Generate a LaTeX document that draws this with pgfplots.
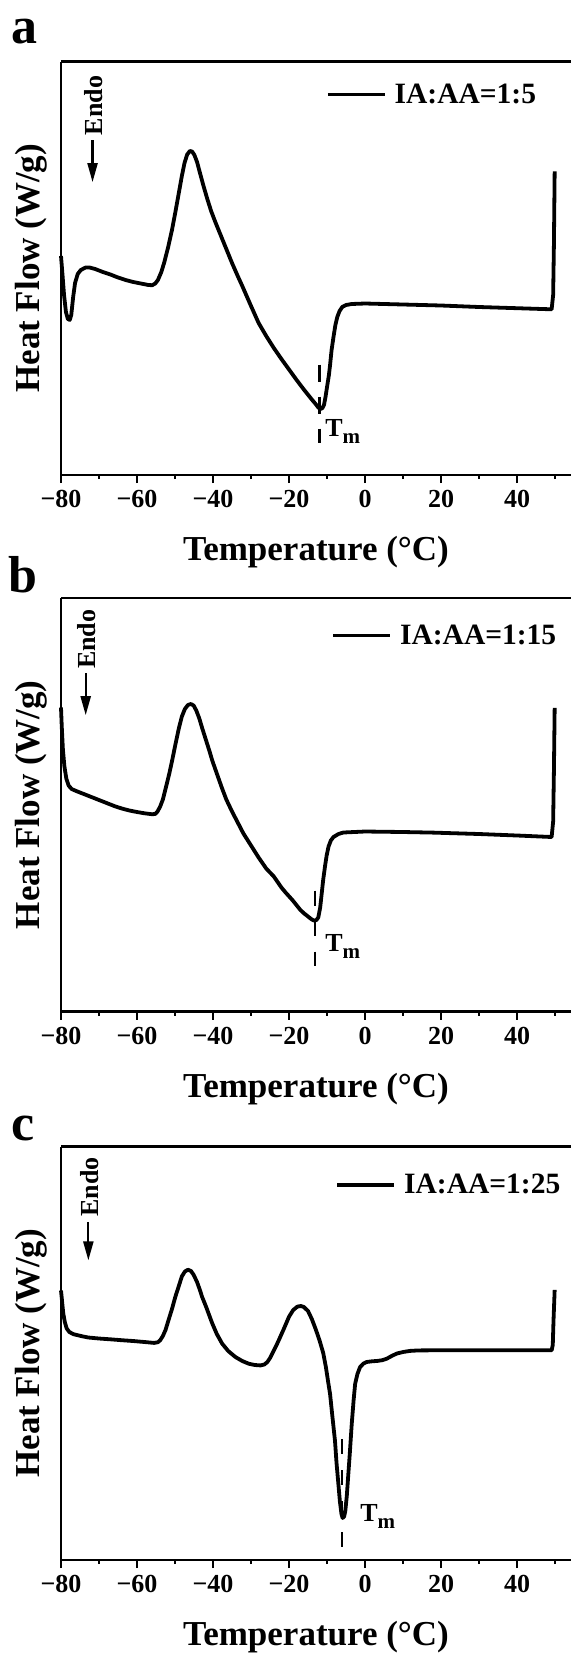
\documentclass[border=0pt]{standalone}
\usepackage{fontspec}
\setmainfont{Liberation Serif}
\usepackage{pgfplots}
\pgfplotsset{compat=1.18}
\usetikzlibrary{arrows.meta}

\pgfplotsset{
  dsc/.style={
    scale only axis, width=510pt, height=413.5pt,
    xmin=-80, xmax=54.2, ymin=0, ymax=413.5,
    axis x line*=box, axis y line*=left,
    axis line style={line width=2.8pt, black},
    xtick={-80,-60,-40,-20,0,20,40},
    xticklabels={−80,−60,−40,−20,0,20,40},
    minor xtick={-70,-50,-30,-10,10,30,50},
    ytick=\empty,
    xtick pos=left,
    tick align=outside,
    major tick length=8pt, minor tick length=4pt,
    every tick/.style={black, line width=2.2pt},
    xticklabel style={font=\bfseries\fontsize{26}{26}\selectfont, yshift=-4pt},
    xlabel={Temperature (°C)},
    ylabel={Heat Flow (W/g)},
    xlabel style={font=\bfseries\fontsize{35}{35}\selectfont, at={(axis description cs:0.5,-0.2073)}, anchor=base},
    ylabel style={font=\bfseries\fontsize{35}{35}\selectfont, at={(axis description cs:-0.0412,0.5)}, anchor=base},
    legend style={draw=none, fill=none, inner sep=0pt, outer sep=0pt,
      font=\bfseries\fontsize{29.5}{29.5}\selectfont, nodes={inner sep=0pt}},
    legend image code/.code={\draw[#1, line width=3.2pt] (0pt,0pt) -- (57pt,0pt); \path (65pt,0pt);},
    clip=false,
  },
  curve/.style={black, line width=3.8pt, line join=round},
  tmline/.style={black, line width=2.2pt, forget plot},
  endoarrow/.style={black, line width=2.2pt, forget plot, -{Triangle[length=19pt,width=10pt]}},
}

\begin{document}
\begin{tikzpicture}
\useasboundingbox (0,0) rectangle (571pt,-1657pt);

% panel labels
\node[anchor=base west, inner sep=0pt, font=\bfseries\fontsize{52}{52}\selectfont] at (11pt,-43pt) {a};
\node[anchor=base west, inner sep=0pt, font=\bfseries\fontsize{52}{52}\selectfont] at (8pt,-592.7pt) {b};
\node[anchor=base west, inner sep=0pt, font=\bfseries\fontsize{52}{52}\selectfont] at (11pt,-1140pt) {c};

% ---------------- panel a ----------------
\begin{axis}[dsc, at={(61pt,-475pt)}, anchor=south west,
  legend style={at={(axis description cs:0.9314,0.9207)}, anchor=east}]
\addplot[curve] table {
x y
-80.0 219
-79.6 200
-79.2 180
-78.7 163
-78.2 156
-77.7 155
-77.3 160
-76.8 178
-76.3 192
-75.6 201
-74.8 205
-73.5 207.5
-72.5 207.5
-71.0 206
-69.0 203
-67.0 200.5
-65.0 197.5
-63.0 195
-61.0 193
-59.0 191.5
-57.0 190
-56.0 189.8
-55.2 191.5
-54.5 195
-53.6 203
-52.8 213
-51.8 228
-50.8 245
-49.9 263
-49.0 282
-48.2 299
-47.5 312
-46.8 320.5
-46.1 324
-45.5 323.5
-44.9 320
-44.2 313
-43.5 303
-42.5 289
-41.5 276
-40.5 264
-39.4 253
-38.0 240
-36.5 226
-35.0 212
-33.5 199
-32.3 189
-30.0 169
-28.0 152
-26.0 139
-24.0 127
-22.0 116
-20.0 105.5
-18.0 95
-16.0 85
-14.0 75.5
-13.0 71
-12.3 67.5
-11.7 66
-11.2 67
-10.8 70
-10.4 78
-10.0 88
-9.5 100
-9.2 110
-8.8 125
-8.3 138
-7.8 150
-7.3 158
-6.7 164
-6.0 168
-5.0 170
-3.5 171
0.0 171.5
10.0 170.5
20.0 169.5
30.0 168
40.0 166.8
49.1 165.7
49.5 180
49.7 230
49.9 303.6
};
\addlegendentry{IA:AA=1:5}
\addplot[tmline, dash pattern=on 17pt off 15pt] coordinates {(-12,110.5) (-12,31.8)};
\addplot[endoarrow] coordinates {(-71.7,334.8) (-71.7,292.9)};
\node[rotate=90, anchor=west, inner sep=0pt, font=\bfseries\fontsize{26}{26}\selectfont] at (axis cs:-71.5,339.8) {Endo};
\node[anchor=base west, inner sep=0pt, font=\bfseries\fontsize{26}{26}\selectfont] at (axis cs:-10.5,38.5) {T\raisebox{-7pt}{\fontsize{21}{21}\selectfont m}};
\end{axis}

% ---------------- panel b ----------------
\begin{axis}[dsc, at={(61pt,-1011.5pt)}, anchor=south west,
  legend style={at={(axis description cs:0.971,0.9088)}, anchor=east}]
\addplot[curve] table {
x y
-80.0 304
-79.8 285
-79.5 262
-79.1 245
-78.6 233
-78.0 226
-77.2 222.5
-76.0 220.5
-74.0 217.5
-72.0 214.5
-70.0 211.5
-68.0 208.5
-66.0 205.5
-64.0 203
-62.0 201
-60.0 199.5
-58.0 198.2
-56.1 197.3
-55.2 197.5
-54.6 200
-53.9 205
-53.2 212
-52.4 224
-51.5 238
-50.7 252
-49.9 267
-49.0 283
-48.2 295
-47.4 302.5
-46.6 306.5
-45.8 307.5
-45.1 306
-44.4 301
-43.6 293
-42.9 284
-41.9 272
-40.9 260
-40.2 251
-39.0 238
-37.7 224
-36.5 212
-35.0 200
-33.5 189
-32.0 178
-30.0 166
-28.0 154
-26.0 143
-24.0 135
-22.0 124
-20.9 119
-19.0 111
-17.0 101.5
-16.0 98
-15.0 95
-14.0 92
-13.3 90.8
-12.8 91.5
-12.3 94
-11.8 104
-11.4 118
-11.0 132
-10.5 146
-10.1 156
-9.6 165
-9.0 171
-8.3 174.5
-7.0 177.5
-5.7 179
0.0 180
10.0 179.5
17.9 178.9
30.0 177.5
40.0 176
49.1 174.5
49.5 190
49.7 240
49.9 303.7
};
\addlegendentry{IA:AA=1:15}
\addplot[tmline, dash pattern=on 15pt off 15.5pt] coordinates {(-13.1,120.8) (-13.1,45.3)};
\addplot[endoarrow] coordinates {(-73.5,338.1) (-73.5,296.3)};
\node[rotate=90, anchor=west, inner sep=0pt, font=\bfseries\fontsize{26}{26}\selectfont] at (axis cs:-73.2,342.5) {Endo};
\node[anchor=base west, inner sep=0pt, font=\bfseries\fontsize{26}{26}\selectfont] at (axis cs:-10.5,60.4) {T\raisebox{-7pt}{\fontsize{21}{21}\selectfont m}};
\end{axis}

% ---------------- panel c ----------------
\begin{axis}[dsc, at={(61pt,-1560pt)}, anchor=south west,
  legend style={at={(axis description cs:0.979,0.907)}, anchor=east}]
\addplot[curve] table {
x y
-80.0 269.5
-79.7 258
-79.4 246.6
-79.0 238
-78.5 231.5
-77.8 228
-76.7 225.8
-74.5 223.8
-72.8 222.5
-70.0 221.5
-67.0 220.7
-64.0 219.8
-61.0 219
-58.0 218
-55.5 217.1
-54.5 217.8
-53.9 219.8
-53.2 224
-52.5 230
-51.7 240
-50.8 251
-49.9 263.4
-49.0 274
-48.2 283.6
-47.4 288.5
-46.6 290.3
-45.8 289
-45.1 285.2
-44.2 278
-43.4 269.5
-42.9 263.4
-41.8 253
-40.2 236.6
-39.0 226
-37.6 216.4
-36.0 209
-34.1 203
-32.3 199
-30.6 196.3
-29.0 195
-27.5 194.6
-26.5 195.5
-25.7 198
-25.0 202
-24.2 208
-23.4 214
-22.7 219.8
-21.5 230
-20.0 243.3
-18.9 250
-17.8 253.4
-16.9 254
-16.1 253
-15.0 249
-14.0 241
-13.0 231
-12.0 220
-11.0 207
-10.3 193
-9.7 178
-9.2 166
-8.6 144
-7.9 119
-7.5 97
-7.0 75.5
-6.6 58
-6.2 46
-5.9 42
-5.5 43.5
-5.2 48.7
-4.8 64
-4.4 85.6
-4.0 107
-3.5 135.9
-3.0 160
-2.6 176.2
-2.0 186
-1.3 193
-0.4 196.5
0.4 198
2.0 198.8
3.1 199
4.5 199.8
5.7 201.3
7.0 204
8.3 206.4
10.0 208
11.8 209.1
14.0 209.6
17.9 209.7
30.0 209.7
40.0 209.7
49.1 209.7
49.4 215
49.6 240
49.9 270.1
};
\addlegendentry{IA:AA=1:25}
\addplot[tmline, dash pattern=on 15pt off 16pt] coordinates {(-6.1,121) (-6.1,13)};
\addplot[endoarrow] coordinates {(-72.8,338.1) (-72.8,299.6)};
\node[rotate=90, anchor=west, inner sep=0pt, font=\bfseries\fontsize{26}{26}\selectfont] at (axis cs:-72.4,343.2) {Endo};
\node[anchor=base west, inner sep=0pt, font=\bfseries\fontsize{26}{26}\selectfont] at (axis cs:-1.3,38.6) {T\raisebox{-7pt}{\fontsize{21}{21}\selectfont m}};
\end{axis}
\end{tikzpicture}
\end{document}
